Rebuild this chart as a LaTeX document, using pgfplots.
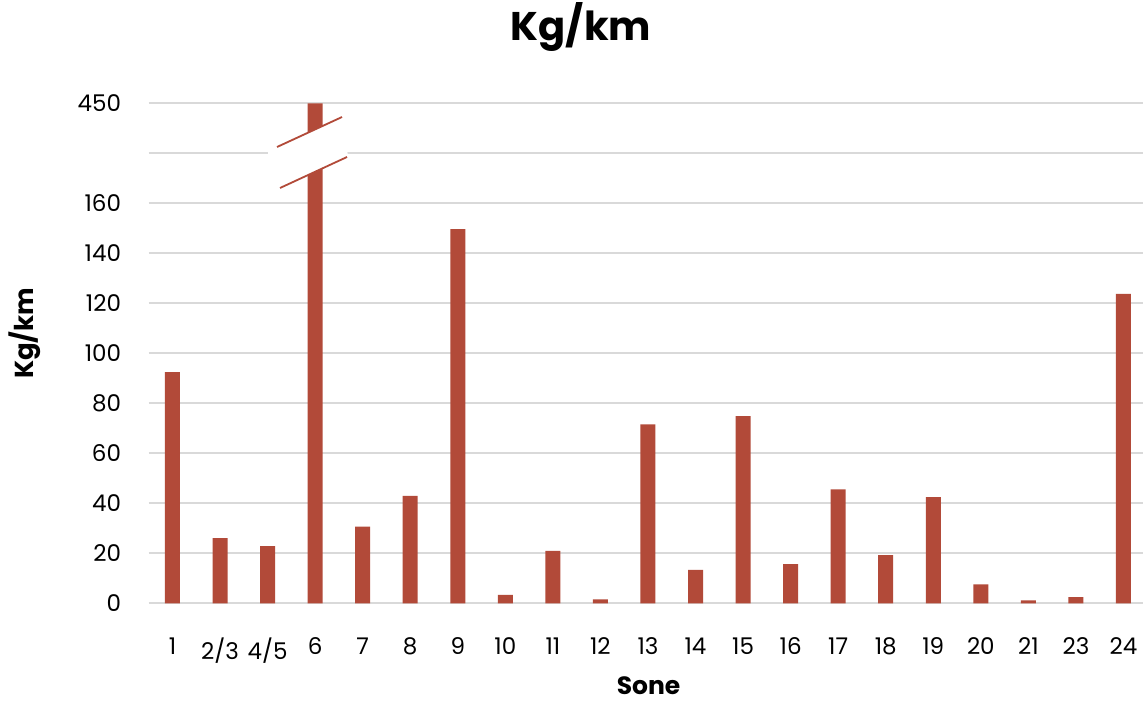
\documentclass[border=0pt]{standalone}
\usepackage{fontspec}
\setmainfont{Poppins}
\usepackage{pgfplots}
\pgfplotsset{compat=1.18}
\definecolor{barred}{HTML}{B24A39}
\definecolor{gridgray}{HTML}{D9D9D9}
\begin{document}
\begin{tikzpicture}[x=1pt,y=1pt]
\begin{axis}[
  at={(148.7pt,102.7pt)}, anchor=south west,
  scale only axis, width=993.8pt, height=500pt,
  xmin=-0.5, xmax=20.4, ymin=0, ymax=200,
  axis line style={draw=none},
  major tick length=0pt,
  clip=false,
  /pgf/number format/assume math mode=true,
  ytick={0,20,...,200},
  yticklabels={0,20,40,60,80,100,120,140,160,{},450},
  ymajorgrids, grid style={gridgray, line width=1.8pt},
  xtick={0,...,20},
  xticklabels={1,2/3,4/5,6,7,8,9,10,11,12,13,14,15,16,17,18,19,20,21,23,24},
  tick label style={font=\fontsize{23}{27}\selectfont, text=black, inner sep=0pt},
  yticklabel style={anchor=east, xshift=-27.5pt},
  xticklabel style={anchor=north, yshift=-34pt},
  xlabel={Sone},
  ylabel={Kg/km},
  title={Kg/km},
  xlabel style={at={(rel axis cs:0.503,-0.183)}, anchor=base, inner sep=0pt, font=\fontsize{25}{28}\selectfont\bfseries},
  ylabel style={at={(rel axis cs:-0.1245,0.54)}, anchor=center, rotate=0, font=\fontsize{26}{30}\selectfont\bfseries},
  title style={at={(rel axis cs:0.435,1.141)}, anchor=center, font=\fontsize{40}{46}\selectfont\bfseries},
]
% bar "6" is 450, drawn at the top of the broken axis (position 200)
\addplot[ybar, bar width=15pt, bar shift=0pt, fill=barred, draw=none] coordinates {
  (0,92.5) (1,26.1) (2,22.9) (3,200) (4,30.7) (5,43) (6,149.7) (7,3.4)
  (8,21) (9,1.6) (10,71.6) (11,13.4) (12,74.9) (13,15.7) (14,45.6)
  (15,19.3) (16,42.5) (17,7.6) (18,1.2) (19,2.5) (20,123.8)
};
% axis break decoration
\fill[white] (axis cs:2.009,180.84) -- (axis cs:3.566,194.52) -- (axis cs:3.692,178.72) -- (axis cs:2.009,163.88) -- cycle;
\draw[barred, line width=1.8pt] (axis cs:2.199,182.52) -- (axis cs:3.566,194.52);
\draw[barred, line width=1.8pt] (axis cs:2.262,166.12) -- (axis cs:3.671,178.52);
\end{axis}
\pgfresetboundingbox
\path (0,0) rectangle (1143,706);
\end{tikzpicture}
\end{document}
